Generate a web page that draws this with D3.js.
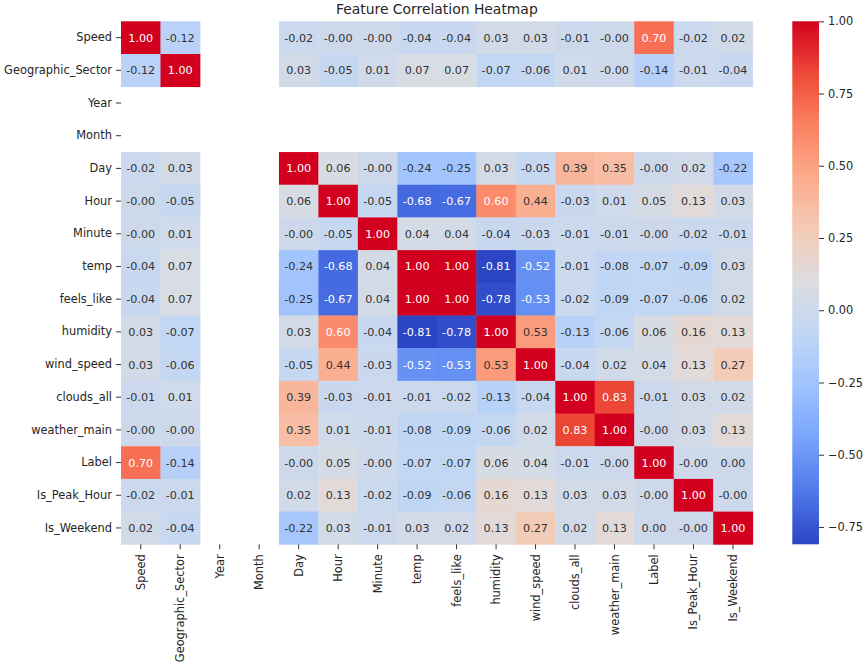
<!DOCTYPE html>
<html>
<head>
<meta charset="utf-8">
<script src="https://cdn.jsdelivr.net/npm/d3@7"></script>
<style>
  body { margin: 0; background: #fff; }
  text { font-family: "DejaVu Sans", sans-serif; }
</style>
</head>
<body>
<div class="chart"></div>
<script>
// feature names (rows and columns share the same order)
const features = ["Speed", "Geographic_Sector", "Year", "Month", "Day", "Hour", "Minute",
  "temp", "feels_like", "humidity", "wind_speed", "clouds_all", "weather_main",
  "Label", "Is_Peak_Hour", "Is_Weekend"];

// correlation rows, null = NaN (Year / Month are constant)
const n = null;
const rowSpeed       = [1.00, -0.12, n, n, -0.02, -0.001, -0.001, -0.04, -0.04, 0.03, 0.03, -0.01, -0.001, 0.70, -0.02, 0.02];
const rowGeoSector   = [-0.12, 1.00, n, n, 0.03, -0.05, 0.01, 0.07, 0.07, -0.07, -0.06, 0.01, -0.001, -0.14, -0.01, -0.04];
const rowYear        = [n, n, n, n, n, n, n, n, n, n, n, n, n, n, n, n];
const rowMonth       = [n, n, n, n, n, n, n, n, n, n, n, n, n, n, n, n];
const rowDay         = [-0.02, 0.03, n, n, 1.00, 0.06, -0.001, -0.24, -0.25, 0.03, -0.05, 0.39, 0.35, -0.001, 0.02, -0.22];
const rowHour        = [-0.001, -0.05, n, n, 0.06, 1.00, -0.05, -0.68, -0.67, 0.60, 0.44, -0.03, 0.01, 0.05, 0.13, 0.03];
const rowMinute      = [-0.001, 0.01, n, n, -0.001, -0.05, 1.00, 0.04, 0.04, -0.04, -0.03, -0.01, -0.01, -0.001, -0.02, -0.01];
const rowTemp        = [-0.04, 0.07, n, n, -0.24, -0.68, 0.04, 1.00, 1.00, -0.81, -0.52, -0.01, -0.08, -0.07, -0.09, 0.03];
const rowFeelsLike   = [-0.04, 0.07, n, n, -0.25, -0.67, 0.04, 1.00, 1.00, -0.78, -0.53, -0.02, -0.09, -0.07, -0.06, 0.02];
const rowHumidity    = [0.03, -0.07, n, n, 0.03, 0.60, -0.04, -0.81, -0.78, 1.00, 0.53, -0.13, -0.06, 0.06, 0.16, 0.13];
const rowWindSpeed   = [0.03, -0.06, n, n, -0.05, 0.44, -0.03, -0.52, -0.53, 0.53, 1.00, -0.04, 0.02, 0.04, 0.13, 0.27];
const rowCloudsAll   = [-0.01, 0.01, n, n, 0.39, -0.03, -0.01, -0.01, -0.02, -0.13, -0.04, 1.00, 0.83, -0.01, 0.03, 0.02];
const rowWeatherMain = [-0.001, -0.001, n, n, 0.35, 0.01, -0.01, -0.08, -0.09, -0.06, 0.02, 0.83, 1.00, -0.001, 0.03, 0.13];
const rowLabel       = [0.70, -0.14, n, n, -0.001, 0.05, -0.001, -0.07, -0.07, 0.06, 0.04, -0.01, -0.001, 1.00, -0.001, 0.001];
const rowPeakHour    = [-0.02, -0.01, n, n, 0.02, 0.13, -0.02, -0.09, -0.06, 0.16, 0.13, 0.03, 0.03, -0.001, 1.00, -0.001];
const rowWeekend     = [0.02, -0.04, n, n, -0.22, 0.03, -0.01, 0.03, 0.02, 0.13, 0.27, 0.02, 0.13, 0.001, -0.001, 1.00];

const matrix = [rowSpeed, rowGeoSector, rowYear, rowMonth, rowDay, rowHour, rowMinute,
  rowTemp, rowFeelsLike, rowHumidity, rowWindSpeed, rowCloudsAll, rowWeatherMain,
  rowLabel, rowPeakHour, rowWeekend];

const colorbarTicks = [-0.75, -0.50, -0.25, 0.00, 0.25, 0.50, 0.75, 1.00];

// coolwarm-like colormap samples at 0, 0.1, ..., 1 (tuned to the picture, a bit more saturated)
const coolwarm = ["#2c45c4", "#4f78ea", "#77a3fb", "#9ec2ff", "#c0d6f5", "#dcdde0",
  "#f4cbb7", "#fbac8c", "#fb8262", "#ee4a38", "#d2001e"];

const W = 865, H = 669;
const plot = {left: 121, top: 21.3, right: 752.7, bottom: 544.3};
const cbar = {left: 792.3, right: 819};

const svg = d3.select(".chart").append("svg")
    .attr("width", W)
    .attr("height", H);

// flatten the matrix into cells
const cells = [];
matrix.forEach((row, i) => row.forEach((v, j) => {
    if (v !== null) cells.push({row: features[i], col: features[j], value: v});
}));

const vals = cells.map(d => d.value);
const vmin = d3.min(vals), vmax = d3.max(vals);

const cmap = d3.scaleLinear()
    .domain(d3.range(coolwarm.length).map(k => k / (coolwarm.length - 1)))
    .range(coolwarm)
    .interpolate(d3.interpolateRgb)
    .clamp(true);
const norm = d3.scaleLinear().domain([vmin, vmax]).range([0, 1]);
const color = v => cmap(norm(v));

const x = d3.scaleBand().domain(features).range([plot.left, plot.right]);
const y = d3.scaleBand().domain(features).range([plot.top, plot.bottom]);

// relative luminance, same rule seaborn uses to pick annotation colour
function luminance(c) {
    const rgb = d3.rgb(c);
    const lin = [rgb.r, rgb.g, rgb.b].map(v => {
        v = v / 255;
        return v <= 0.03928 ? v / 12.92 : Math.pow((v + 0.055) / 1.055, 2.4);
    });
    return 0.2126 * lin[0] + 0.7152 * lin[1] + 0.0722 * lin[2];
}
const fmt = v => (v < 0 ? "-" : "") + Math.abs(v).toFixed(2);

svg.append("g")
  .selectAll("rect")
  .data(cells)
  .join("rect")
    .attr("x", d => x(d.col))
    .attr("y", d => y(d.row))
    .attr("width", x.bandwidth() + 0.4)
    .attr("height", y.bandwidth() + 0.4)
    .attr("fill", d => color(d.value));

svg.append("g")
  .selectAll("text")
  .data(cells)
  .join("text")
    .attr("x", d => x(d.col) + x.bandwidth() / 2)
    .attr("y", d => y(d.row) + y.bandwidth() / 2)
    .attr("text-anchor", "middle")
    .attr("dy", "0.36em")
    .attr("font-size", 11.2)
    .attr("fill", d => luminance(color(d.value)) > 0.408 ? "#333333" : "#ffffff")
    .text(d => fmt(d.value));

// axes
const yAxis = d3.axisLeft(y).tickSize(5).tickPadding(4);
const xAxis = d3.axisBottom(x).tickSize(5).tickPadding(4);

const gy = svg.append("g")
    .attr("class", "axis y-axis")
    .attr("transform", `translate(${plot.left},0)`)
    .call(yAxis);

const gx = svg.append("g")
    .attr("class", "axis x-axis")
    .attr("transform", `translate(0,${plot.bottom})`)
    .call(xAxis);

gx.selectAll("text")
    .attr("transform", "rotate(-90)")
    .attr("text-anchor", "end")
    .attr("x", -10)
    .attr("y", 0)
    .attr("dy", "0.35em");

[gx, gy].forEach(g => {
    g.select(".domain").remove();
    g.selectAll("line").attr("stroke", "#333").attr("stroke-width", 1);
    g.selectAll("text").attr("font-size", 11.4).attr("fill", "#262626")
        .style("font-family", "DejaVu Sans");
});

// colorbar
const cy = d3.scaleLinear().domain([vmin, vmax]).range([plot.bottom, plot.top]);

const grad = svg.append("defs").append("linearGradient")
    .attr("id", "cbar-grad")
    .attr("x1", 0).attr("y1", 1).attr("x2", 0).attr("y2", 0);
grad.selectAll("stop")
  .data(d3.range(0, 1.0001, 0.02))
  .join("stop")
    .attr("offset", d => d)
    .attr("stop-color", d => cmap(d));

svg.append("rect")
    .attr("x", cbar.left)
    .attr("y", plot.top)
    .attr("width", cbar.right - cbar.left)
    .attr("height", plot.bottom - plot.top)
    .attr("fill", "url(#cbar-grad)");

const cAxis = d3.axisRight(cy)
    .tickValues(colorbarTicks)
    .tickSize(5)
    .tickPadding(4)
    .tickFormat(d => (d < 0 ? "\u2212" : "") + Math.abs(d).toFixed(2));

const gc = svg.append("g")
    .attr("transform", `translate(${cbar.right},0)`)
    .call(cAxis);
gc.select(".domain").remove();
gc.selectAll("line").attr("stroke", "#333");
gc.selectAll("text").attr("font-size", 11.4).attr("fill", "#262626")
    .style("font-family", "DejaVu Sans");

// title
svg.append("text")
    .attr("x", (plot.left + plot.right) / 2)
    .attr("y", 14)
    .attr("text-anchor", "middle")
    .attr("font-size", 13.9)
    .attr("fill", "#262626")
    .text("Feature Correlation Heatmap");
</script>
</body>
</html>
